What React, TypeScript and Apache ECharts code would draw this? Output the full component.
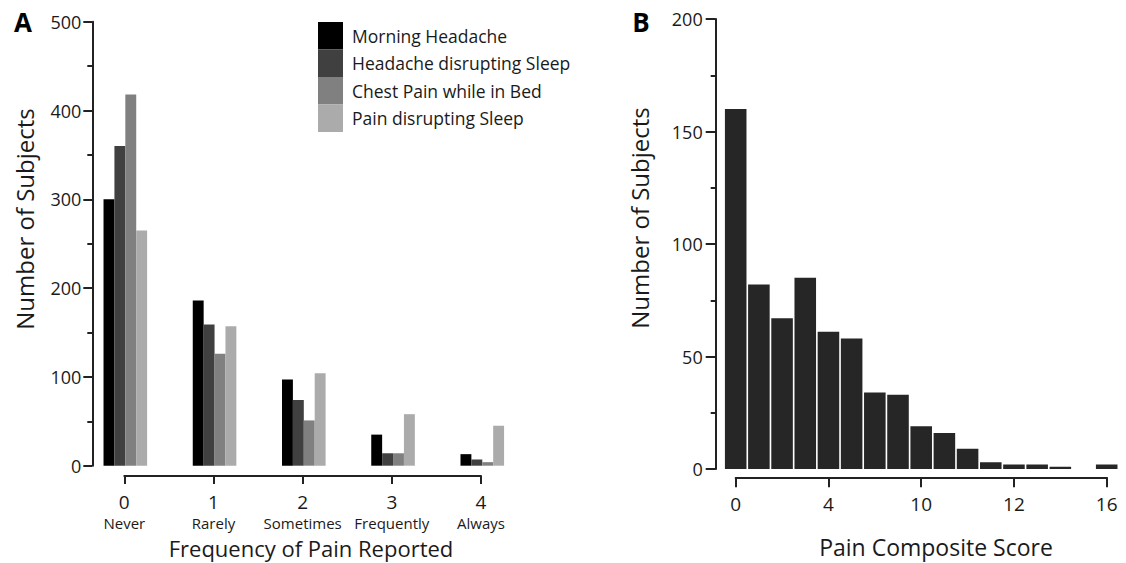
import React, { useEffect, useRef } from "react";
import * as echarts from "echarts";

const categoriesA = ["0", "1", "2", "3", "4"];
const freqWords = ["Never", "Rarely", "Sometimes", "Frequently", "Always"];
const seriesNamesA = [
  "Morning Headache",
  "Headache disrupting Sleep",
  "Chest Pain while in Bed",
  "Pain disrupting Sleep",
];
const morningHeadache = [300, 186, 97, 35, 13];
const headacheSleep = [360, 159, 74, 14, 7];
const chestPain = [418, 126, 51, 14, 4];
const painSleep = [265, 157, 104, 58, 45];
const colorsA = ["#000000", "#404040", "#808080", "#ababab"];

const scoresB = ["0", "1", "2", "3", "4", "5", "6", "7", "8", "9", "10", "11", "12", "13", "14", "15", "16"];
const countsB = [160, 82, 67, 85, 61, 58, 34, 33, 19, 16, 9, 3, 2, 2, 1, 0, 2];
const tickLabelsB = ["0", "4", "10", "12", "16"];

const FONT = "Open Sans";
const INK = "#1a1a1a";
const AX = "#222222";

export default function App() {
  const ref = useRef<HTMLDivElement>(null);
  useEffect(() => {
    if (!ref.current) return;
    const chart = echarts.init(ref.current, undefined, { renderer: "svg" });
    const axisLine = { show: true, lineStyle: { color: AX, width: 2 } };
    const valuesA = [morningHeadache, headacheSleep, chestPain, painSleep];
    chart.setOption({
      animation: false,
      backgroundColor: "#ffffff",
      textStyle: { fontFamily: FONT, color: INK },
      grid: [
        { left: 80.7, top: 21.7, width: 446.2, height: 444, containLabel: false },
        { left: 124.3, top: 475, width: 356.7, height: 1 },
        { left: 724.1, top: 19, width: 394.2, height: 450 },
        { left: 735.7, top: 476.3, width: 371, height: 1 },
      ],
      legend: {
        orient: "vertical",
        left: 318,
        top: 22,
        padding: 0,
        itemWidth: 25,
        itemHeight: 27.5,
        itemGap: 0,
        icon: "rect",
        data: seriesNamesA,
        textStyle: { fontFamily: FONT, fontSize: 17.5, color: INK, padding: [0, 0, 0, 4] },
      },
      xAxis: [
        { gridIndex: 0, type: "category", data: categoriesA, show: false },
        {
          gridIndex: 1,
          type: "value",
          min: 0,
          max: 4,
          interval: 1,
          position: "bottom",
          axisLine,
          axisTick: { show: true, length: 8, lineStyle: { color: AX, width: 2 } },
          splitLine: { show: false },
          axisLabel: {
            margin: 14,
            color: INK,
            fontFamily: FONT,
            formatter: (v: number) => `{n|${v}}\n{w|${freqWords[v]}}`,
            rich: {
              n: { fontSize: 19, lineHeight: 23, fontFamily: FONT, color: INK },
              w: { fontSize: 15, lineHeight: 19, fontFamily: FONT, color: INK },
            },
          },
        },
        { gridIndex: 2, type: "category", data: scoresB, show: false },
        {
          gridIndex: 3,
          type: "value",
          min: 0,
          max: 16,
          interval: 4,
          position: "bottom",
          axisLine,
          axisTick: { show: true, length: 10, lineStyle: { color: AX, width: 2 } },
          splitLine: { show: false },
          axisLabel: {
            margin: 17,
            color: INK,
            fontFamily: FONT,
            fontSize: 19,
            formatter: (v: number) => tickLabelsB[v / 4],
          },
        },
      ],
      yAxis: [
        {
          gridIndex: 0,
          type: "value",
          min: 0,
          max: 500,
          interval: 100,
          offset: -11.6,
          axisLine,
          axisTick: { show: true, length: 9, lineStyle: { color: AX, width: 2 } },
          minorTick: { show: true, splitNumber: 2, length: 5, lineStyle: { color: AX, width: 2 } },
          splitLine: { show: false },
          axisLabel: { margin: 11, fontSize: 18, color: INK, fontFamily: FONT },
        },
        { gridIndex: 1, type: "value", show: false },
        {
          gridIndex: 2,
          type: "value",
          min: 0,
          max: 200,
          interval: 50,
          offset: 8.4,
          axisLine,
          axisTick: { show: true, length: 10, lineStyle: { color: AX, width: 2 } },
          minorTick: { show: true, splitNumber: 2, length: 5, lineStyle: { color: AX, width: 2 } },
          splitLine: { show: false },
          axisLabel: { margin: 13, fontSize: 18, color: INK, fontFamily: FONT },
        },
        { gridIndex: 3, type: "value", show: false },
      ],
      series: [
        ...seriesNamesA.map((name, i) => ({
          type: "bar",
          name,
          xAxisIndex: 0,
          yAxisIndex: 0,
          data: valuesA[i],
          barWidth: 10.9,
          barGap: "0%",
          itemStyle: { color: colorsA[i] },
        })),
        {
          type: "bar",
          name: "Pain Composite Score",
          xAxisIndex: 2,
          yAxisIndex: 2,
          data: countsB,
          barCategoryGap: "7%",
          itemStyle: { color: "#262626" },
        },
      ],
      graphic: [
        {
          type: "text",
          x: 23,
          y: 22,
          style: { text: "A", fontFamily: FONT, fontWeight: "bold", fontSize: 26, fill: "#000", align: "center", verticalAlign: "middle" },
        },
        {
          type: "text",
          x: 641,
          y: 22,
          style: { text: "B", fontFamily: FONT, fontWeight: "bold", fontSize: 26, fill: "#000", align: "center", verticalAlign: "middle" },
        },
        {
          type: "text",
          x: 24,
          y: 219,
          rotation: Math.PI / 2,
          style: { text: "Number of Subjects", fontFamily: FONT, fontSize: 24, fill: INK, align: "center", verticalAlign: "middle" },
        },
        {
          type: "text",
          x: 639,
          y: 218,
          rotation: Math.PI / 2,
          style: { text: "Number of Subjects", fontFamily: FONT, fontSize: 24, fill: INK, align: "center", verticalAlign: "middle" },
        },
        {
          type: "text",
          x: 311,
          y: 548,
          style: { text: "Frequency of Pain Reported", fontFamily: FONT, fontSize: 22, fill: INK, align: "center", verticalAlign: "middle" },
        },
        {
          type: "text",
          x: 936,
          y: 547,
          style: { text: "Pain Composite Score", fontFamily: FONT, fontSize: 23, fill: INK, align: "center", verticalAlign: "middle" },
        },
      ],
    });
    return () => chart.dispose();
  }, []);
  return (
    <div
      ref={ref}
      style={{ position: "fixed", left: 0, top: 0, width: 1126, height: 563, background: "#fff" }}
    />
  );
}
